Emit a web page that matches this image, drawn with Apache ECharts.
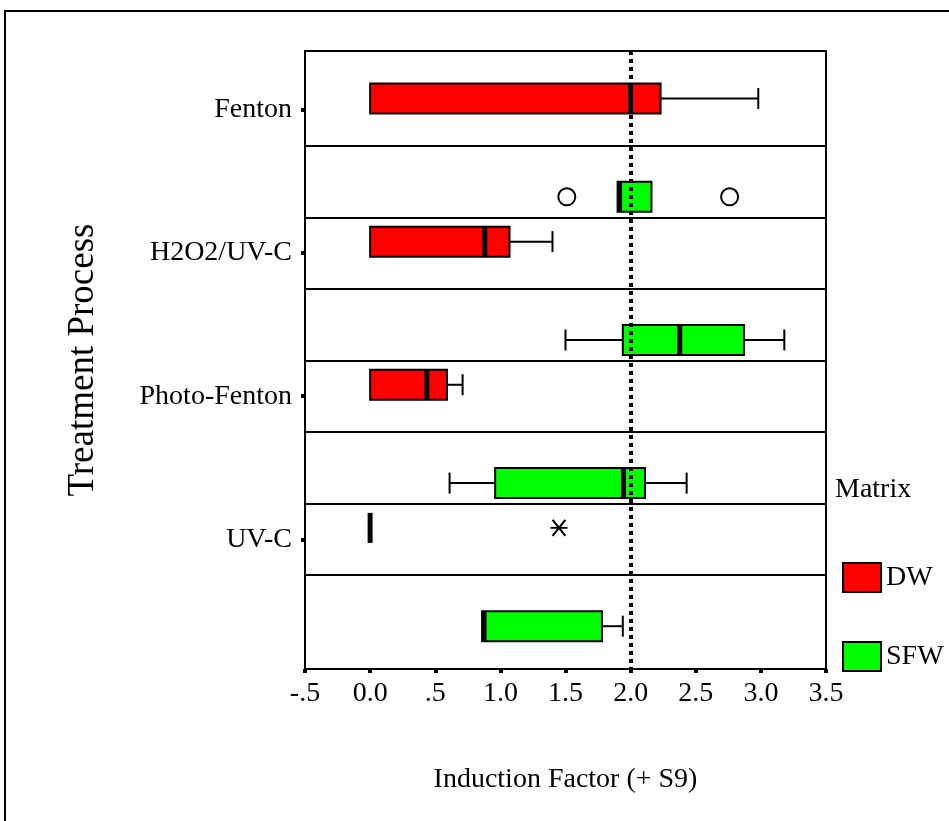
<!DOCTYPE html>
<html>
<head>
<meta charset="utf-8">
<script src="https://cdn.jsdelivr.net/npm/echarts@6/dist/echarts.min.js"></script>
<style>
  html, body { margin: 0; padding: 0; background: #fff; }
  #chart { width: 949px; height: 821px; }
</style>
</head>
<body>
<div id="chart"></div>
<script>
// ---------------- data ----------------
const categories = ['Fenton', 'H2O2/UV-C', 'Photo-Fenton', 'UV-C'];
const matrices = ['DW', 'SFW'];
const xTickLabels = ['-.5', '0.0', '.5', '1.0', '1.5', '2.0', '2.5', '3.0', '3.5'];
// [lower whisker, Q1, median, Q3, upper whisker] per category
const dwBoxes = [
  [0.00, 0.00, 2.00, 2.23, 2.98],
  [0.00, 0.00, 0.88, 1.07, 1.40],
  [0.00, 0.00, 0.435, 0.59, 0.71],
  [0.00, 0.00, 0.00, 0.00, 0.00]
];
const sfwBoxes = [
  [1.90, 1.90, 1.915, 2.16, 2.16],
  [1.50, 1.94, 2.377, 2.87, 3.18],
  [0.61, 0.96, 1.945, 2.11, 2.43],
  [0.86, 0.86, 0.875, 1.78, 1.94]
];
// outliers: [category index, value]
const sfwOutliers = [[0, 1.51], [0, 2.76]];
const dwExtremes = [[3, 1.45]];
const referenceValue = 2.0;
const rowSeparators = [0.25, 0.75, 1.25, 1.75, 2.25, 2.75, 3.25];

// ---------------- layout / style ----------------
const FONT = 'Liberation Serif, Times New Roman, serif';
const DW_OFFSET = -0.08;
const SFW_OFFSET = 0.607;
const BOX_HALF = 15;
const CAP_HALF = 10.5;
const X_MIN = -0.5, X_STEP = 0.5;

function boxRenderer(offset, color) {
  return function (params, api) {
    const cat = api.value(0);
    const low = api.value(1), q1 = api.value(2), med = api.value(3), q3 = api.value(4), high = api.value(5);
    const yc = cat + offset;
    const pLow = api.coord([low, yc]);
    const pQ1 = api.coord([q1, yc]);
    const pMed = api.coord([med, yc]);
    const pQ3 = api.coord([q3, yc]);
    const pHigh = api.coord([high, yc]);
    const y = pQ1[1];
    const children = [];
    const lineStyle = { stroke: '#000', lineWidth: 2 };
    if (low < q1) {
      children.push({ type: 'line', shape: { x1: pLow[0], y1: y, x2: pQ1[0], y2: y }, style: lineStyle });
      children.push({ type: 'line', shape: { x1: pLow[0], y1: y - CAP_HALF, x2: pLow[0], y2: y + CAP_HALF }, style: lineStyle });
    }
    if (high > q3) {
      children.push({ type: 'line', shape: { x1: pQ3[0], y1: y, x2: pHigh[0], y2: y }, style: lineStyle });
      children.push({ type: 'line', shape: { x1: pHigh[0], y1: y - CAP_HALF, x2: pHigh[0], y2: y + CAP_HALF }, style: lineStyle });
    }
    children.push({
      type: 'rect',
      shape: { x: pQ1[0], y: y - BOX_HALF, width: pQ3[0] - pQ1[0], height: 2 * BOX_HALF },
      style: { fill: color, stroke: '#000', lineWidth: 2 }
    });
    children.push({
      type: 'rect',
      shape: { x: pMed[0] - 2.5, y: y - BOX_HALF, width: 5, height: 2 * BOX_HALF },
      style: { fill: '#000' }
    });
    return { type: 'group', children: children };
  };
}

const chart = echarts.init(document.getElementById('chart'), null, { renderer: 'canvas' });

const option = {
  animation: false,
  backgroundColor: '#fff',
  textStyle: { fontFamily: FONT, color: '#000' },
  title: {
    text: 'Matrix',
    left: 835, top: 476, padding: 0,
    textStyle: { fontFamily: FONT, fontSize: 28, fontWeight: 'normal', color: '#000' }
  },
  legend: {
    data: matrices,
    orient: 'vertical',
    left: 842, top: 562, padding: 0,
    itemWidth: 38, itemHeight: 29, itemGap: 48,
    icon: 'rect',
    selectedMode: false,
    itemStyle: { borderColor: '#000', borderWidth: 2 },
    textStyle: { fontFamily: FONT, fontSize: 28, color: '#000', lineHeight: 29 }
  },
  graphic: [{
    type: 'rect',
    shape: { x: 5, y: 11, width: 1000, height: 900 },
    style: { fill: 'none', stroke: '#000', lineWidth: 2 },
    silent: true
  }],
  grid: {
    left: 305, top: 51, width: 521, height: 618,
    show: true, borderColor: '#000', borderWidth: 2, backgroundColor: 'transparent',
    outerBoundsMode: 'none'
  },
  xAxis: {
    type: 'value',
    min: -0.5, max: 3.5, interval: 0.5,
    name: 'Induction Factor (+ S9)',
    nameLocation: 'middle', nameGap: 97,
    nameTextStyle: { fontFamily: FONT, fontSize: 28, color: '#000' },
    axisLine: { show: true, onZero: false, lineStyle: { color: '#000', width: 2 } },
    axisTick: { show: true, length: 4, lineStyle: { color: '#000', width: 4 } },
    axisLabel: {
      margin: 11, fontFamily: FONT, fontSize: 28, color: '#000',
      formatter: function (v) { return xTickLabels[Math.round((v - X_MIN) / X_STEP)]; }
    },
    splitLine: { show: false }
  },
  yAxis: {
    type: 'value',
    inverse: true,
    min: -0.412, max: 3.906,
    name: 'Treatment Process',
    nameLocation: 'middle', nameGap: 203, nameRotate: 90,
    nameTextStyle: { fontFamily: FONT, fontSize: 37, color: '#000' },
    axisLine: { show: true, onZero: false, lineStyle: { color: '#000', width: 2 } },
    axisTick: { show: true, length: 4, customValues: categories.map((c, i) => i), lineStyle: { color: '#000', width: 4 } },
    axisLabel: {
      margin: 13, fontFamily: FONT, fontSize: 28, color: '#000',
      customValues: categories.map((c, i) => i),
      formatter: function (v) { return categories[Math.round(v)]; }
    },
    splitLine: { show: false }
  },
  series: [
    {
      name: 'DW', type: 'custom', z: 2,
      itemStyle: { color: '#ff0000' },
      renderItem: boxRenderer(DW_OFFSET, '#ff0000'),
      encode: { x: [1, 2, 3, 4, 5], y: 0 },
      data: dwBoxes.map((b, i) => [i].concat(b))
    },
    {
      name: 'SFW', type: 'custom', z: 2,
      itemStyle: { color: '#00ff00' },
      renderItem: boxRenderer(SFW_OFFSET, '#00ff00'),
      encode: { x: [1, 2, 3, 4, 5], y: 0 },
      data: sfwBoxes.map((b, i) => [i].concat(b))
    },
    {
      name: 'SFW outliers', type: 'scatter', z: 3,
      symbol: 'circle', symbolSize: 17,
      itemStyle: { color: 'rgba(0,0,0,0)', borderColor: '#000', borderWidth: 2, opacity: 1 },
      data: sfwOutliers.map(o => [o[1], o[0] + SFW_OFFSET])
    },
    {
      name: 'DW extremes', type: 'scatter', z: 3,
      symbol: 'path://M0,8 L16,8 M2,1 L14,15 M14,1 L2,15',
      symbolSize: [17, 16],
      itemStyle: { color: 'rgba(0,0,0,0)', borderColor: '#000', borderWidth: 2, opacity: 1 },
      data: dwExtremes.map(o => [o[1], o[0] + DW_OFFSET])
    },
    {
      name: 'guides', type: 'scatter', z: 1, data: [],
      markLine: {
        silent: true, symbol: 'none', animation: false,
        label: { show: false },
        lineStyle: { color: '#000', width: 2, type: 'solid' },
        data: rowSeparators.map(v => ({ yAxis: v }))
      }
    },
    {
      name: 'reference', type: 'scatter', z: 5, data: [],
      markLine: {
        silent: true, symbol: 'none', animation: false,
        label: { show: false },
        lineStyle: { color: '#000', width: 4, type: [4, 4], cap: 'butt' },
        data: [{ xAxis: referenceValue }]
      }
    }
  ]
};
chart.setOption(option);
</script>
</body>
</html>
